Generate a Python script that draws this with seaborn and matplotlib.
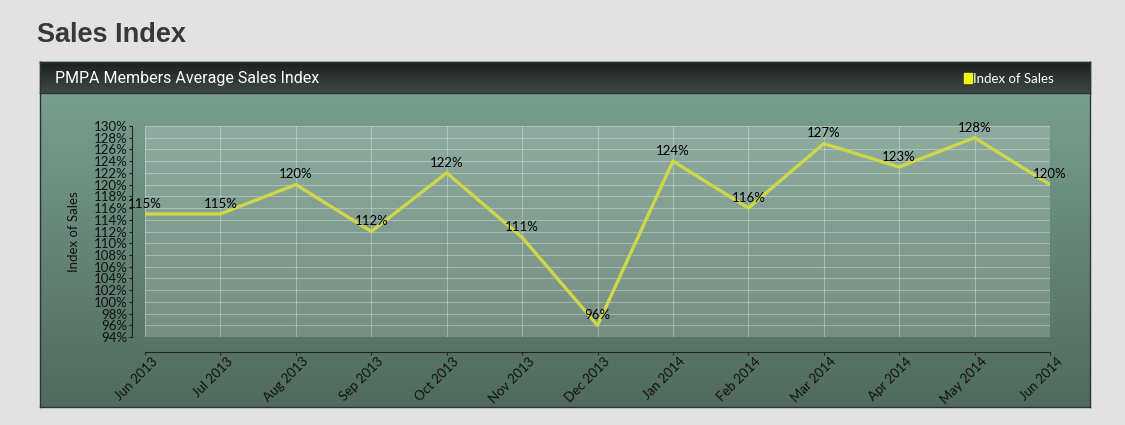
import numpy as np
import pandas as pd
import seaborn as sns
import matplotlib.pyplot as plt
import matplotlib.transforms as mtransforms
from matplotlib.colors import LinearSegmentedColormap

# chart data
months = ['Jun 2013', 'Jul 2013', 'Aug 2013', 'Sep 2013', 'Oct 2013', 'Nov 2013',
          'Dec 2013', 'Jan 2014', 'Feb 2014', 'Mar 2014', 'Apr 2014', 'May 2014', 'Jun 2014']
sales_index = [115, 115, 120, 112, 122, 111, 96, 124, 116, 127, 123, 128, 120]
y_ticks = list(range(94, 131, 2))

df = pd.DataFrame({'pos': range(len(months)), 'month': months, 'index': sales_index})

sns.set_style('white')
plt.rcParams['font.family'] = ['Lato', 'DejaVu Sans']

W, H = 1125, 425
DPI = 100
fig = plt.figure(figsize=(W / DPI, H / DPI), dpi=DPI, facecolor='#e2e2e2')
px = 72 / DPI  # points per pixel


def box(x0, y0, x1, y1):
    # pixel box (top-left origin) -> figure fraction rect
    return [x0 / W, 1 - y1 / H, (x1 - x0) / W, (y1 - y0) / H]


def gradient(rect, top, bottom, z):
    a = fig.add_axes(rect, zorder=z)
    cmap = LinearSegmentedColormap.from_list('g', [top, bottom])
    a.imshow(np.linspace(0, 1, 256).reshape(-1, 1), aspect='auto', cmap=cmap,
             extent=[0, 1, 0, 1])
    a.set_xticks([])
    a.set_yticks([])
    for s in a.spines.values():
        s.set_color('#2c3431')
        s.set_linewidth(1)
    return a


# panel body and header
gradient(box(40, 62, 1090, 407), '#7ca494', '#506a5e', 0)
hdr = gradient(box(40, 62, 1090, 93), '#1b1f1e', '#404945', 1)
hdr.text(0.014, 0.47, 'PMPA Members Average Sales Index', color='white',
         fontsize=11.5, va='center', ha='left', family=['Roboto', 'DejaVu Sans'])
hdr.add_patch(plt.Rectangle((0.880, 0.33), 0.0076, 0.3, color='#f5f50a',
                            transform=hdr.transAxes))
hdr.text(0.889, 0.45, 'Index of Sales', color='white', fontsize=9.5,
         va='center', ha='left')

fig.text(37 / W, 1 - 35 / H, 'Sales Index', fontsize=19.5, fontweight='bold',
         color='#383838', va='center', ha='left', family=['Liberation Sans', 'DejaVu Sans'])

# main chart
ax = fig.add_axes(box(145, 126, 1050, 337), zorder=2)
ax.spines['top'].set_visible(False)
ax.spines['right'].set_visible(False)
ax.spines['left'].set_position(('outward', 13 * px))
ax.spines['bottom'].set_position(('outward', 15 * px))
ax.spines['left'].set_color('#222')
ax.spines['bottom'].set_color('#222')
ax.set_facecolor((1, 1, 1, 0.18))

sns.lineplot(data=df, x='pos', y='index', ax=ax, color='#cdd748', linewidth=2.4)

for x, v in zip(df['pos'], df['index']):
    ax.annotate(f'{v}%', (x, v), xytext=(0, 3), textcoords='offset points',
                ha='center', va='bottom', fontsize=9.5, color='black')

ax.set_xlim(0, len(months) - 1)
ax.set_ylim(94, 130)
ax.set_yticks(y_ticks)
ax.set_yticklabels([f'{t}%' for t in y_ticks], fontsize=9.5, color='#111')
ax.set_xticks(df['pos'])
ax.set_xticklabels(months, fontsize=9.5, color='#111')
ax.grid(True, color='white', alpha=0.3, linewidth=0.8)
ax.tick_params(axis='both', length=3 * px, width=0.8, color='#222', pad=1,
               left=True, bottom=True)
ax.tick_params(axis='x', labelrotation=45, pad=0)
shift = mtransforms.ScaledTranslation(6 / DPI, 0, fig.dpi_scale_trans)
for lbl in ax.get_xticklabels():
    lbl.set_ha('right')
    lbl.set_va('top')
    lbl.set_rotation_mode('anchor')
    lbl.set_transform(lbl.get_transform() + shift)
ax.set_xlabel('')
ax.set_ylabel('Index of Sales', fontsize=9.5, color='#111', labelpad=10)

fig.savefig('out.png', dpi=DPI, facecolor=fig.get_facecolor())
